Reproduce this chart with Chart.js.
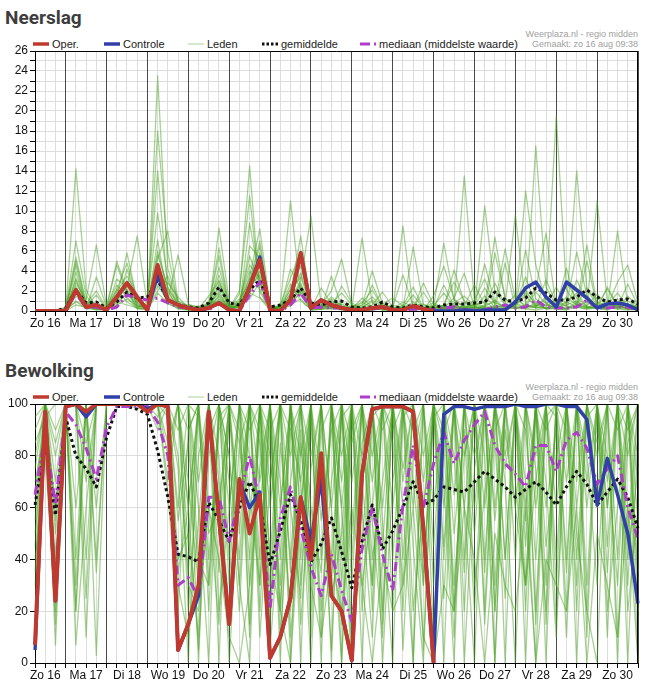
<!DOCTYPE html>
<html><head><meta charset="utf-8">
<script src="https://cdn.jsdelivr.net/npm/chart.js@4.4.0/dist/chart.umd.min.js"></script>
<style>
html,body{margin:0;padding:0;background:#fff;overflow:hidden;width:649px;height:691px;font-family:"Liberation Sans",Arial,sans-serif;}
.title{position:absolute;left:5px;font-family:Roboto,"Liberation Sans",Arial,sans-serif;font-weight:bold;font-size:19px;line-height:20px;color:#3d3d3d;}
.cv{position:absolute;left:0;}
.legend{position:absolute;left:0;width:649px;height:14px;font-size:11px;color:#222;}
.li{position:absolute;top:0;height:14px;white-space:nowrap;line-height:14px;}
.li svg{position:absolute;left:0;top:0;}
.li span{position:absolute;left:19px;top:0;}
.wm{position:absolute;right:11px;text-align:right;font-size:9px;color:#a0a0a0;line-height:10px;white-space:nowrap;}
</style></head>
<body>
<div class="title" style="top:8px">Neerslag</div>
<div class="wm" style="top:29px">Weerplaza.nl - regio midden<br>Gemaakt: zo 16 aug 09:38</div>
<div class="legend" id="leg1" style="top:37px"></div>
<canvas id="c1" class="cv" width="649" height="340" style="top:0"></canvas>

<div class="title" style="top:361px">Bewolking</div>
<div class="wm" style="top:382px">Weerplaza.nl - regio midden<br>Gemaakt: zo 16 aug 09:38</div>
<div class="legend" id="leg2" style="top:390px"></div>
<canvas id="c2" class="cv" width="649" height="339" style="top:352px"></canvas>

<script>
// ---------- categories ----------
const dayNames = ['Zo 16','Ma 17','Di 18','Wo 19','Do 20','Vr 21','Za 22','Zo 23','Ma 24','Di 25','Wo 26','Do 27','Vr 28','Za 29','Zo 30','Ma 31'];
const hours = ['00:00','06:00','12:00','18:00'];
const seriesNames = ['Oper.','Controle','Leden','gemiddelde','mediaan (middelste waarde)'];

// ---------- Neerslag (mm) ----------
const rainOper = [0,0,0, 0,2.1,0.4,0.6, 0.1,1.4,2.8,1.4, 0.1,4.6,1.1,0.6, 0.3,0.1,0.3,0.8, 0.1,0,2.4,5.1, 0.1,0,1.1,5.8, 0.3,1.1,0.6,0.3, 0.1,0.1,0.3,0.4, 0.1,0.1,0.5,0.2, 0];
const rainCtrl = [0,0,0, 0,2.1,0.4,0.6, 0.1,1.4,2.8,1.4, 0.1,3.6,1.1,0.6, 0.3,0.1,0.3,0.8, 0.1,0,2.4,5.4, 0.1,0,1.1,5.8, 0.3,1.1,0.6,0.3, 0.1,0.1,0.3,0.4, 0.1,0.1,0.5,0.2, 0,0,0,0.1, 0,0.1,0.1,0.1, 0.9,2.3,2.9,1.4, 0.4,2.9,2.1,1.3, 0.3,0.7,0.8,0.6, 0.1];
const rainMean = [0,0,0, 0.3,2.1,0.8,0.9, 0.3,0.9,1.9,1.3, 1.4,3.1,1.1,0.6, 0.4,0.3,0.8,2.4, 0.8,0.6,2.1,3.1, 0.4,0.6,1.1,2.3, 0.8,0.6,0.9,1.0, 0.4,0.3,0.4,0.9, 0.4,0.3,0.6,0.4, 0.3,0.6,0.7,0.7, 0.8,0.9,1.9,1.1, 0.9,1.3,2.3,1.8, 1.1,1.1,1.4,2.1, 1.4,0.9,1.1,1.2, 0.7];
const rainMedian = [0,0,0, 0,1.8,0.3,0.4, 0.1,0.4,1.6,1.3, 1.1,1.3,0.8,0.4, 0.3,0.1,0.1,0.8, 0.1,0,1.6,2.9, 0.1,0,0.6,1.8, 0.3,0.4,0.3,0.3, 0.1,0.1,0.2,0.3, 0.1,0.1,0.2,0.1, 0.1,0.3,0.4,0.1, 0.1,0.1,0.4,0.6, 0.3,0.4,1.1,0.4, 0.3,0.3,0.4,1.1, 0.3,0.3,0.4,0.4, 0.1];
const rainM01 = [0,0,0, 0.2,5.4,0.8,0.5, 0.3,2.1,4.8,1.2, 0.4,3.9,1.5,0.6, 0.2,0.1,0.5,6.3, 0.4,1.2,2.8,6.5, 0.2,0.1,0.9,2.4, 0.3,0.5,1.2,0.2, 0.1,0.4,0.9,0.2, 0.1,0.3,0.1,0.2, 0.5,1.8,0.4,0.2, 1.1,3.2,0.6,0.3, 0.9,2.1,0.5,1.4, 0.6,0.2,3.1,1.0, 0.3,0.8,0.2,1.5, 0.4];
const rainM02 = [0,0,0, 0,14.2,2.1,0.3, 0.1,1.0,2.5,0.8, 0.2,23.5,4.2,1.0, 0.5,0.2,1.5,3.0, 0.3,0.8,4.0,2.2, 0.1,0.3,1.8,7.5, 0.6,0.2,3.5,0.4, 0.2,1.3,0.4,0.1, 0.0,0.4,1.6,0.3, 0.2,0.6,2.9,1.0, 0.3,1.5,0.4,0.1, 0.7,0.3,16.5,2.4, 0.5,0.9,1.8,0.4, 0.3,0.1,0.6,0.2, 0.1];
const rainM03 = [0,0,0, 0.3,2.8,1.1,6.6, 0.5,4.6,1.8,0.3, 0.9,9.8,3.1,0.4, 0.1,0.3,0.2,8.3, 1.0,0.4,8.8,3.0, 0.2,0.5,11.0,1.6, 0.1,0.2,0.7,1.8, 0.6,0.2,0.1,0.3, 0.2,0.9,0.4,0.1, 1.5,4.5,1.2,0.3, 0.4,0.2,5.8,1.3, 0.2,0.6,0.4,1.2, 19.5,2.1,0.6,0.3, 0.8,0.3,1.2,0.4, 0.2];
const rainM04 = [0,0,0, 0.1,1.5,0.4,0.2, 0.1,3.2,2.4,7.5, 0.6,6.0,2.2,0.8, 0.3,0.1,0.4,2.0, 0.2,1.7,14.5,1.4, 0.3,0.2,2.3,4.5, 0.8,0.4,0.3,0.1, 0.2,0.6,1.4,0.5, 0.3,0.1,0.5,0.7, 0.2,0.3,0.6,13.5, 0.9,0.4,1.1,0.3, 0.5,1.8,0.9,0.2, 0.4,0.6,14.0,2.2, 0.5,1.0,0.3,0.7, 0.3];
const rainM05 = [0,0,0, 0,3.3,0.6,0.9, 0.2,1.9,3.5,1.5, 0.3,18.0,5.8,0.6, 0.4,0.2,0.9,3.6, 0.5,0.3,6.5,5.3, 0.4,0.1,1.2,3.0, 9.5,0.6,0.4,0.2, 0.1,0.3,0.2,0.6, 0.4,0.2,0.1,0.3, 0.2,0.1,0.3,0.5, 0.3,10.5,2.0,0.6, 1.6,0.3,0.8,0.2, 0.3,4.3,0.5,0.9, 0.2,2.4,0.5,0.3, 0.6];
const rainM06 = [0,0,0, 0.1,4.6,0.3,0.1, 0.2,0.6,1.2,0.5, 0.2,2.5,1.1,5.6, 0.7,0.3,0.6,1.8, 0.1,0.6,2.1,4.0, 0.6,0.2,0.5,2.0, 0.4,0.3,0.9,0.6, 0.3,7.3,0.8,0.2, 0.2,0.3,0.9,0.4, 0.1,0.2,0.8,1.5, 0.5,0.3,0.2,4.8, 0.3,0.4,1.9,0.7, 0.3,0.2,0.5,0.4, 11.0,0.9,0.3,0.2, 0.2];
const rainM07 = [0,0,0, 0.2,7.0,1.5,0.4, 0.1,1.3,5.8,1.0, 0.5,14.0,2.0,0.3, 0.2,0.4,0.3,1.2, 0.3,0.5,3.5,8.2, 0.5,0.3,2.7,1.0, 0.2,0.4,1.4,0.5, 0.2,0.1,2.6,0.4, 0.1,8.5,0.3,0.2, 0.3,0.5,0.2,0.4, 0.6,0.9,0.3,0.2, 0.4,12.0,4.6,0.8, 0.2,0.9,0.4,0.2, 0.5,0.3,0.7,1.0, 0.3];
const rainM08 = [0,0,0, 0.1,1.0,0.2,3.4, 0.4,2.6,1.4,0.2, 0.3,5.2,8.0,0.9, 0.6,0.4,0.2,2.7, 0.6,0.9,1.5,5.8, 0.3,0.6,3.3,6.0, 0.4,0.2,0.3,0.9, 0.5,0.2,0.4,0.3, 0.6,0.3,0.2,0.4, 0.8,0.3,0.1,0.2, 0.4,0.2,0.4,0.6, 0.2,0.6,0.3,0.4, 1.2,0.4,0.3,5.0, 0.4,0.3,8.0,0.6, 0.2];
const rainM09 = [0,0,0, 0.3,2.2,0.9,0.6, 0.3,1.2,3.0,0.7, 0.4,4.4,1.9,0.4, 0.3,0.2,0.4,2.5, 0.2,0.7,5.5,2.6, 0.5,0.4,1.3,1.9, 0.2,0.4,0.6,0.3, 0.4,0.2,0.3,0.1, 0.2,0.4,0.3,0.2, 0.6,0.2,0.5,0.3, 0.2,0.6,0.9,0.4, 0.8,0.4,0.6,0.3, 0.5,0.2,0.7,0.3, 0.4,0.2,0.6,0.2, 0.3];
const rainM10 = [0,0,0, 0,0.6,0.4,0.2, 0.1,0.9,0.6,0.3, 0.1,1.8,0.8,0.2, 0.1,0.2,0.8,0.9, 0.2,0.4,1.8,1.3, 0.1,0.2,0.6,1.2, 0.1,0.2,0.2,0.4, 0.1,0.2,0.1,0.3, 0.1,0.2,0.1,0.2, 0.1,0.3,0.2,0.1, 0.2,0.1,0.3,0.2, 0.3,0.2,0.1,0.3, 0.2,0.1,0.4,0.2, 0.3,0.4,0.2,0.1, 0.2];
const rainM11 = [0,0,0, 0.4,3.9,0.5,0.3, 0.2,5.0,2.0,0.4, 0.6,3.2,2.8,1.4, 0.3,0.5,0.3,4.4, 0.5,0.3,3.0,7.0, 0.3,0.4,1.6,3.8, 0.6,0.9,0.4,0.3, 0.4,0.9,0.3,0.6, 0.3,0.2,6.4,0.6, 0.4,0.3,0.4,0.8, 0.3,0.4,0.3,0.6, 9.6,0.7,0.3,0.6, 0.4,0.3,0.6,6.6, 0.5,0.3,0.4,0.6, 0.4];
const rainM12 = [0,0,0, 0.1,5.0,0.7,2.0, 0.3,0.5,4.2,0.9, 0.3,7.1,1.0,0.6, 0.4,0.2,0.6,5.5, 0.3,2.0,11.5,1.9, 0.2,0.3,4.2,2.2, 0.3,0.2,0.5,0.7, 0.3,0.4,0.2,0.8, 0.2,0.3,0.5,0.2, 0.3,0.6,0.3,0.4, 0.2,0.3,0.5,0.3, 0.5,0.3,0.4,0.3, 0.6,0.2,0.9,0.4, 0.3,0.2,0.4,0.3, 0.5];
const rainM13 = [0,0,0, 0.2,1.8,0.3,0.5, 0.2,2.2,0.9,0.3, 0.2,3.0,0.7,0.3, 0.2,0.1,0.2,1.6, 0.3,0.4,2.4,3.6, 0.2,0.1,0.8,2.8, 0.3,0.5,0.3,2.5, 0.8,0.3,0.6,1.9, 0.4,3.6,0.5,0.3, 0.4,6.8,1.1,0.5, 2.6,0.6,7.4,1.2, 0.6,3.4,0.5,0.9, 0.6,2.8,1.3,0.5, 1.7,0.5,2.9,4.6, 0.8];
const rainM14 = [0,0,0, 0.1,0.9,0.6,0.3, 0.2,1.6,2.8,0.6, 0.3,2.0,3.5,0.8, 0.3,0.2,0.3,1.1, 0.2,0.6,1.2,2.9, 0.4,0.3,1.0,1.7, 0.2,2.3,0.7,0.4, 0.3,0.6,4.0,0.7, 1.3,0.5,0.2,2.8, 0.6,0.4,4.1,0.9, 0.5,2.3,0.7,6.2, 1.1,0.6,2.2,7.8, 0.4,1.4,0.6,2.3, 0.9,0.6,1.8,0.4, 1.1];
const rainM15 = [0,0,0, 0.1,2.5,0.4,0.2, 0.1,0.8,1.9,0.5, 0.2,3.4,0.9,0.3, 0.2,0.3,0.5,1.4, 0.2,0.8,3.2,4.4, 0.2,0.2,1.5,2.6, 0.4,0.6,2.0,5.2, 0.6,0.3,1.1,0.4, 0.2,0.5,2.4,0.3, 0.4,0.3,1.3,3.8, 0.4,4.7,0.8,0.4, 0.6,1.5,0.4,3.1, 0.8,0.5,5.9,1.6, 0.3,0.9,0.4,2.7, 0.5];
const rainM16 = [0,0,0, 0.2,3.1,0.5,1.6, 0.2,1.7,2.2,0.6, 0.3,5.6,2.4,0.5, 0.3,0.2,0.7,3.1, 0.3,1.0,4.6,3.3, 0.3,0.4,2.1,3.4, 0.5,0.7,0.4,0.2, 0.3,0.8,2.1,0.4, 0.2,0.6,0.3,1.9, 0.3,2.6,0.5,0.3, 0.7,0.4,2.8,0.6, 0.4,6.1,1.2,0.5, 2.4,0.6,1.0,0.4, 0.6,2.2,0.5,0.3, 0.4];
const rainMembers = [rainM01,rainM02,rainM03,rainM04,rainM05,rainM06,rainM07,rainM08,rainM09,rainM10,rainM11,rainM12,rainM13,rainM14,rainM15,rainM16];

// ---------- Bewolking (%) ----------
const cloudOper = [7,97,24, 99,100,97,100, 100,100,100,100, 97,100,99,5, 15,30,97,56, 15,71,50,65, 2,10,25,64, 40,81,26,20, 1,73,98,99, 99,99,97,52, 0];
const cloudCtrl = [5,97,24, 99,100,95,100, 100,100,100,100, 98,100,99,5, 15,26,97,56, 15,70,60,66, 2,10,25,64, 47,71,26,20, 1,73,98,99, 99,99,97,52, 0,96,99,99, 98,99,99,99, 100,99,99,100, 100,99,99,94, 61,79,65,50, 23];
const cloudMean = [61,85,57, 95,80,75,68, 87,99,99,98, 96,82,64,42, 41,39,62,55, 47,60,70,61, 38,51,65,55, 39,46,56,43, 29,47,61,44, 51,60,70,61, 63,68,67,66, 70,74,71,68, 64,67,70,66, 61,68,74,69, 61,66,71,64, 52];
const cloudMedian = [65,88,61, 97,92,83,71, 91,99,99,99, 99,93,80,30, 33,25,64,64, 47,64,80,62, 21,56,68,52, 37,26,42,28, 16,44,60,42, 28,61,84,60, 77,89,77,86, 92,97,84,77, 73,68,84,84, 74,86,89,83, 69,75,80,60, 48];
const cloudM01 = [60,98,40, 100,100,85,100, 100,100,100,100, 100,100,95,30, 10,55,100,70, 20,85,40,100, 5,60,100,30, 95,20,70,100, 0,85,100,45, 100,100,20,60, 95,100,30,80, 100,15,90,100, 40,100,75,20, 100,90,30,100, 65,100,10,85, 100];
const cloudM02 = [100,100,7, 100,20,100,100, 100,100,100,100, 100,90,100,80, 35,100,20,95, 100,50,100,10, 70,100,0,85, 40,100,100,15, 100,30,60,100, 20,95,100,5, 100,60,100,0, 75,100,55,100, 100,0,100,45, 80,100,100,20, 100,35,100,60, 20];
const cloudM03 = [85,95,60, 100,100,40,100, 100,100,100,98, 100,100,70,100, 60,5,80,100, 40,100,65,30, 100,20,90,70, 0,80,40,95, 100,60,10,100, 85,30,100,100, 10,100,80,35, 100,100,20,90, 60,30,100,100, 15,100,70,100, 100,45,100,0, 90];
const cloudM04 = [30,100,90, 100,7,60,100, 100,100,100,100, 100,100,100,60, 100,40,30,100, 70,20,100,90, 15,85,40,100, 60,35,100,0, 90,100,40,70, 100,5,80,100, 30,100,100,60, 0,100,85,25, 100,70,0,100, 95,20,100,80, 30,100,100,40, 75];
const cloudM05 = [90,100,100, 100,100,100,40, 100,100,100,100, 100,100,65,20, 90,100,60,15, 100,90,30,75, 100,10,70,100, 80,100,25,50, 100,0,95,100, 60,100,45,0, 100,85,10,100, 50,100,100,0, 100,55,100,70, 10,100,60,100, 85,100,0,100, 55];
const cloudM06 = [70,90,15, 100,100,100,100, 100,100,100,100, 100,95,100,100, 20,80,100,35, 95,60,100,20, 90,100,10,60, 100,70,5,100, 40,100,100,20, 100,75,100,35, 100,0,100,100, 30,65,100,40, 100,100,15,95, 100,35,100,10, 100,70,100,100, 35];
const cloudM07 = [100,100,55, 100,40,100,3, 100,100,100,100, 100,100,100,40, 50,10,90,100, 30,100,80,60, 100,40,100,0, 100,55,90,100, 10,70,30,100, 90,100,60,100, 45,100,20,100, 100,80,0,100, 70,30,100,90, 100,100,50,20, 0,100,90,100, 20];
const cloudM08 = [45,100,80, 100,100,70,100, 100,100,100,100, 100,100,80,100, 100,60,0,100, 80,40,100,100, 40,100,60,25, 100,0,100,70, 100,100,55,10, 100,40,100,80, 100,70,0,100, 100,40,100,70, 0,100,100,60, 90,10,100,100, 100,60,100,30, 100];
const cloudM09 = [100,100,100, 100,20,100,100, 100,100,100,100, 100,100,100,75, 0,100,50,60, 100,30,0,100, 60,100,90,100, 20,100,100,40, 100,45,100,0, 70,100,100,30, 100,100,50,90, 20,100,100,100, 100,100,20,100, 60,100,0,100, 100,20,60,100, 0];
const cloudM10 = [55,100,30, 100,100,100,100, 100,100,100,100, 100,100,100,100, 70,30,100,50, 100,100,10,100, 80,30,100,40, 100,100,60,0, 100,80,100,55, 0,100,90,100, 100,25,100,60, 100,100,30,100, 100,90,40,100, 30,100,100,70, 100,10,100,90, 100];
const cloudM11 = [95,100,100, 100,100,25,100, 100,100,100,100, 100,100,100,90, 100,0,100,100, 60,100,100,40, 100,70,20,100, 50,100,0,100, 70,100,20,100, 100,60,0,100, 100,100,100,40, 100,20,100,75, 100,60,100,0, 100,100,40,100, 80,100,100,50, 100];
const cloudM12 = [10,100,70, 100,100,100,60, 100,100,100,100, 100,100,100,100, 100,70,100,0, 100,100,55,100, 100,0,100,100, 30,90,100,60, 0,100,100,100, 40,100,100,60, 100,45,100,100, 80,100,0,100, 100,20,100,100, 100,40,100,100, 60,100,100,20, 60];
const cloudM13 = [75,100,100, 100,100,100,100, 100,100,100,100, 100,100,100,100, 100,100,30,100, 100,100,100,85, 30,100,100,100, 100,100,100,30, 100,100,70,100, 100,100,100,100, 100,100,100,100, 100,100,100,100, 60,100,100,100, 100,100,100,100, 100,100,100,100, 100];
const cloudM14 = [40,80,20, 100,60,100,100, 100,100,100,100, 100,100,100,35, 60,100,100,80, 0,70,100,100, 90,20,100,80, 100,10,100,100, 30,100,100,90, 100,20,100,100, 60,100,100,20, 100,60,100,100, 100,30,70,100, 40,100,100,100, 100,80,30,100, 80];
const cloudM15 = [100,100,100, 100,100,100,100, 100,100,100,100, 100,100,100,100, 90,100,100,100, 100,100,90,100, 100,100,100,60, 100,100,100,100, 85,100,100,100, 100,100,100,100, 100,90,100,100, 100,100,100,100, 100,100,100,100, 100,100,100,95, 100,100,100,100, 100];
const cloudM16 = [20,100,50, 100,100,100,100, 100,100,100,100, 100,100,100,100, 30,20,60,40, 10,0,30,100, 40,20,0,60, 30,10,40,20, 60,30,0,40, 20,30,60,10, 0,30,20,60, 40,0,50,30, 20,60,0,40, 30,20,60,0, 50,30,10,60, 0];
const cloudM17 = [80,100,35, 100,30,100,100, 100,100,100,100, 100,100,100,55, 85,35,100,20, 60,100,15,100, 70,100,35,90, 10,100,60,100, 50,100,100,15, 100,100,70,30, 100,40,100,100, 60,100,20,100, 100,45,100,15, 100,70,100,30, 100,100,40,100, 30];
const cloudM18 = [65,100,85, 100,100,10,100, 100,100,100,100, 100,100,85,100, 45,100,100,100, 80,30,100,70, 100,60,100,15, 75,100,30,100, 100,20,100,60, 100,100,0,100, 100,100,65,100, 100,35,100,80, 100,100,100,30, 100,100,20,100, 100,60,100,100, 70];
const cloudM19 = [50,95,100, 100,100,100,100, 100,100,100,100, 100,100,100,100, 100,95,40,90, 100,60,100,30, 100,100,80,100, 100,40,100,80, 100,100,30,100, 100,70,100,100, 100,100,20,100, 100,100,100,40, 100,100,60,100, 100,100,100,60, 100,100,100,100, 100];
const cloudM20 = [35,100,60, 100,100,100,35, 100,100,100,100, 100,100,100,100, 60,100,100,60, 100,85,100,100, 20,100,100,70, 100,100,100,60, 100,100,80,100, 100,100,100,70, 100,100,100,80, 100,100,60,100, 100,100,80,100, 100,100,100,100, 100,100,100,80, 100];
const cloudMembers = [cloudM01,cloudM02,cloudM03,cloudM04,cloudM05,cloudM06,cloudM07,cloudM08,cloudM09,cloudM10,cloudM11,cloudM12,cloudM13,cloudM14,cloudM15,cloudM16,cloudM17,cloudM18,cloudM19,cloudM20];

// ---------- build time labels ----------
const allTimes = [];
dayNames.forEach(d => hours.forEach(h => allTimes.push(d + ' ' + h)));
const times = allTimes.slice(1, 61);

const FONT = "'Liberation Sans', Arial, sans-serif";
const COL = {oper:'#c0392f', ctrl:'#3040a8', member:'rgba(72,160,32,0.48)', mean:'#111111', median:'#b03ccc'};

function legendHTML() {
  const items = [
    {x:33, svg:'<line x1="0" y1="7" x2="16" y2="7" stroke="'+COL.oper+'" stroke-width="3.5"/>'},
    {x:104, svg:'<line x1="0" y1="7" x2="16" y2="7" stroke="'+COL.ctrl+'" stroke-width="3.5"/>'},
    {x:188, svg:'<line x1="0" y1="7" x2="16" y2="7" stroke="#a9d49a" stroke-width="1"/>'},
    {x:262, svg:'<line x1="0" y1="7" x2="16" y2="7" stroke="#111" stroke-width="3" stroke-dasharray="2.5,2"/>'},
    {x:360, svg:'<line x1="0" y1="7" x2="16" y2="7" stroke="'+COL.median+'" stroke-width="3" stroke-dasharray="10,4,2,4"/>'}
  ];
  return items.map((it,i) => '<div class="li" style="left:'+it.x+'px"><svg width="18" height="14">'+it.svg+'</svg><span>'+seriesNames[i]+'</span></div>').join('');
}
document.getElementById('leg1').innerHTML = legendHTML();
document.getElementById('leg2').innerHTML = legendHTML();

const frame = {
  id:'frame',
  afterDatasetsDraw(chart) {
    const a = chart.chartArea, c = chart.ctx;
    c.save(); c.strokeStyle = '#000'; c.lineWidth = 1;
    c.beginPath();
    c.moveTo(a.left, Math.round(a.top)+0.5); c.lineTo(a.right, Math.round(a.top)+0.5);
    c.moveTo(Math.round(a.right)-0.5, a.top); c.lineTo(Math.round(a.right)-0.5, a.bottom);
    c.stroke(); c.restore();
  }
};

function line(label, data, color, width, dash) {
  return {label, data, borderColor:color, backgroundColor:color, borderWidth:width, borderDash:dash||[],
          pointRadius:0, pointHoverRadius:0, fill:false, tension:0, borderCapStyle:'butt', borderJoinStyle:'round'};
}

function makeChart(id, oper, ctrl, median, mean, members, yMax, yStep, labelEvery, padTop, xHeight) {
  const datasets = [
    line(seriesNames[0], oper, COL.oper, 4),
    line(seriesNames[1], ctrl, COL.ctrl, 3.5),
    line(seriesNames[4], median, COL.median, 3, [9,4,2,4]),
    line(seriesNames[3], mean, COL.mean, 3, [3,3]),
    ...members.map(m => line(seriesNames[2], m, COL.member, 1.3))
  ];
  return new Chart(document.getElementById(id), {
    type:'line',
    data:{labels:times, datasets},
    options:{
      responsive:false, animation:false,
      layout:{padding:{top:padTop, right:11, left:0, bottom:0}},
      plugins:{legend:{display:false}, tooltip:{enabled:false}},
      scales:{
        x:{
          type:'category', offset:false,
          grid:{z:-1, color:ctx => (times[ctx.index] && times[ctx.index].endsWith('00:00')) ? '#4a4a4a' : '#dddddd',
                lineWidth:1, drawTicks:true, tickLength:5, tickColor:'#000'},
          border:{color:'#000', width:1},
          ticks:{autoSkip:false, maxRotation:0, minRotation:0, padding:0, color:'#111',
                 font:{family:FONT, size:12},
                 callback:(v,i) => times[i].endsWith('12:00') ? times[i].slice(0,-6) : ''},
          afterFit:s => { s.height = xHeight; }
        },
        y:{
          min:0, max:yMax,
          grid:{z:-2, color:'#dddddd', lineWidth:1, drawTicks:true, tickLength:5, tickColor:'#000'},
          border:{color:'#000', width:1},
          ticks:{stepSize:yStep, autoSkip:false, maxTicksLimit:200, padding:2, color:'#111',
                 font:{family:FONT, size:12},
                 callback:v => (v % labelEvery === 0) ? String(v) : ''},
          afterFit:s => { s.width = 35; }
        }
      }
    },
    plugins:[frame]
  });
}

makeChart('c1', rainOper, rainCtrl, rainMedian, rainMean, rainMembers, 26, 1, 2, 51, 29);
makeChart('c2', cloudOper, cloudCtrl, cloudMedian, cloudMean, cloudMembers, 100, 20, 20, 52, 28);
</script>
</body></html>
